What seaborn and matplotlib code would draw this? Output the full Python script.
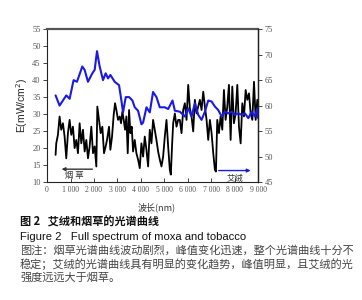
import matplotlib
matplotlib.use("Agg")
import matplotlib.pyplot as plt
import seaborn as sns
import numpy as np
import pandas as pd

# tobacco (black) spectrum, wavelength in nm, E in mW/cm2 (left axis)
tobacco_wl = [363, 392, 463, 534, 605, 677, 748, 819, 890, 962,
              1033, 1104, 1175, 1246, 1318, 1389, 1460, 1531, 1603, 1674,
              1745, 1816, 1887, 1959, 2030, 2101, 2144, 2215, 2286, 2358,
              2429, 2500, 2557, 2642, 2699, 2771, 2842, 2899, 2956, 3027,
              3098, 3155, 3212, 3269, 3326, 3383, 3440, 3497, 3554, 3611,
              3668, 3739, 3810, 3882, 3953, 4024, 4095, 4167, 4238, 4309,
              4380, 4451, 4522, 4594, 4665, 4736, 4808, 4879, 4950, 5021,
              5093, 5164, 5235, 5278, 5335, 5378, 5449, 5520, 5591,
              5662, 5734, 5805, 5876, 5947, 6019, 6090, 6161, 6232, 6303,
              6375, 6446, 6517, 6588, 6660, 6731, 6802, 6873, 6944, 7016,
              7087, 7158, 7201, 7258, 7329, 7400, 7472, 7543, 7614, 7685,
              7756, 7828, 7899, 7970, 8041, 8113, 8184, 8255, 8326, 8397,
              8469, 8540, 8611, 8682, 8754, 8825, 8896, 8967, 9000]
tobacco_e = [18, 21.4, 23.9, 29.3, 25.4, 27.3, 23.4, 17, 24.4, 28.3,
             23.9, 26.3, 20, 22.4, 18.5, 27.3, 21.4, 25.4, 19, 22.4,
             17, 20.5, 26.3, 18.5, 20.5, 14.6, 32.2, 28.3, 24.4, 26.3,
             18.5, 20.5, 22.4, 26.3, 19.5, 23.4, 29.8, 33.2, 31.2, 28.3,
             29.3, 27.3, 30.7, 28.3, 25.4, 29.3, 18.5, 31.2, 24.4, 26.3,
             19, 22.4, 18.5, 16.6, 14.1, 21.4, 17.5, 23.4, 19.5, 14.6,
             25.4, 21.4, 28.3, 25.4, 22.4, 19, 16.6, 14.6, 17.5, 23.4,
             28.3, 20.5, 13.6, 12.2, 21.4, 27.3, 30.2, 26.3, 28.3,
             28.3, 24.4, 31.2, 33.2, 28.3, 38.6, 31.7, 29.3, 24.9, 34.2,
             30.2, 32.2, 34.2, 31.2, 36.6, 32.2, 28.3, 22.4, 28.3, 24.4,
             18.5, 13.6, 13.1, 28.3, 24.4, 29.3, 25.4, 37.1, 28.3, 32.2,
             38.6, 22.4, 38.1, 27.3, 30.2, 38.6, 26.3, 21.4, 33.2, 29.3,
             37.1, 34.2, 36.1, 30.2, 28.3, 39.5, 28.3, 34.2, 30.2]

# moxa (blue) spectrum
moxa_wl = [363, 534, 819, 962, 1132, 1275, 1503, 1603, 1745, 1930,
           2030, 2130, 2244, 2386, 2500, 2600, 2700, 2885, 3070, 3170,
           3240, 3355, 3500, 3640, 3740, 3880, 4025, 4095, 4240, 4380,
           4520, 4665, 4808, 5020, 5165, 5350, 5450,
           5662, 5876, 6020, 6160, 6303, 6446, 6588, 6731, 6873, 7016,
           7160, 7300, 7443, 7585, 7728, 7870, 8013, 8155, 8300, 8440,
           8583, 8725, 8867, 8967, 9000]
moxa_e = [35.5, 32.5, 35.5, 34.5, 40, 39.5, 44, 43, 39.5, 42,
          43, 48.5, 44, 40, 42, 40.5, 41.5, 39.5, 38.5, 34,
          30.5, 35, 35, 34, 32, 31, 27, 27.5, 32, 30.5,
          36.5, 35, 32, 32, 31.5, 34, 31,
          30.7, 29.3, 31.7, 29.3, 33.2, 29.8, 28.3, 30.7, 34.0, 33.7,
          32.2, 31.2, 29.3, 30.7, 30.2, 30.7, 29.8, 30.2, 29.8, 30.2,
          28.8, 30.7, 29.3, 31.7, 28.8]

x_ticks = [0, 1000, 2000, 3000, 4000, 5000, 6000, 7000, 8000, 9000]
left_ticks = [10, 15, 20, 25, 30, 35, 40, 45, 50, 55]
right_ticks = [45, 50, 55, 60, 65, 70, 75]

caption_lines = ["图注：烟草光谱曲线波动剧烈，峰值变化迅速，整个光谱曲线十分不",
                 "稳定；艾绒的光谱曲线具有明显的变化趋势，峰值明显，且艾绒的光",
                 "强度远远大于烟草。"]

sns.set_style("ticks")
plt.rcParams['font.family'] = ['Noto Sans CJK SC', 'DejaVu Sans']

tob = pd.DataFrame({'wl': tobacco_wl, 'E': tobacco_e})
mox = pd.DataFrame({'wl': moxa_wl, 'E': moxa_e})

fig = plt.figure(figsize=(3.62, 3.0), dpi=100)
ax = fig.add_axes([0.130, 0.393, 0.583, 0.510])

sns.lineplot(data=tob, x='wl', y='E', ax=ax, color='black', lw=1.3, sort=False)
sns.lineplot(data=mox, x='wl', y='E', ax=ax, color='#1a1ae6', lw=1.5, sort=False)

ax.set_xlim(0, 9000)
ax.set_ylim(10, 55)
ax.set_xticks(x_ticks)
ax.set_xticklabels([f"{v:,}".replace(",", " ") for v in x_ticks],
                   family='Liberation Serif', fontsize=5.5, color='#555555')
ax.set_yticks(left_ticks)
ax.set_yticklabels([str(v) for v in left_ticks], family='Liberation Serif',
                   fontsize=6, color='#555555')
ax.tick_params(axis='x', direction='in', length=3, width=0.6, pad=3)
ax.tick_params(axis='y', direction='out', length=3, width=0.6, pad=1.5)
ax.set_xlabel('')
ax.set_ylabel('E(mW/cm$^2$)', family='Liberation Sans', fontsize=7.5, labelpad=2)
for s in ax.spines.values():
    s.set_linewidth(0.8)
    s.set_color('#222222')
ax.spines['top'].set_linewidth(1.6)
ax.spines['top'].set_color('#555555')

ax2 = ax.twinx()
ax2.set_ylim(45, 75)
ax2.set_yticks(right_ticks)
ax2.set_yticklabels([str(v) for v in right_ticks], family='Liberation Serif',
                    fontsize=6, color='#555555')
ax2.tick_params(axis='y', direction='out', length=3, width=0.6, pad=1.5)
for s in ax2.spines.values():
    s.set_visible(False)
ax2.spines['right'].set_visible(True)
ax2.spines['right'].set_linewidth(1.0)
ax2.spines['right'].set_color('#222222')

# arrows marking the two curves
ax.annotate('', xy=(500, 13.8), xytext=(2050, 13.8),
            arrowprops=dict(arrowstyle='-|>', color='#333333', lw=1.0, mutation_scale=5))
ax.text(1150, 11.9, '烟 草', fontsize=6, ha='center', va='center', color='#333333')
ax.annotate('', xy=(8800, 13.4), xytext=(7200, 13.4),
            arrowprops=dict(arrowstyle='-|>', color='#1a1ae6', lw=1.0, mutation_scale=5))
ax.text(8000, 11.2, '艾绒', fontsize=6, ha='center', va='center', color='#333333')

fig.text(157 / 362, 1 - 207 / 300, '波长(nm)', fontsize=6.5, ha='center', va='center',
         color='#333333')
fig.text(20 / 362, 1 - 222 / 300, '图 2   艾绒和烟草的光谱曲线', fontsize=8,
         ha='left', va='center', color='#111111', fontweight='bold')
fig.text(20 / 362, 1 - 237 / 300, 'Figure 2   Full spectrum of moxa and tobacco',
         fontsize=8.1, ha='left', va='center', color='#111111', family='Liberation Sans')
for i, line in enumerate(caption_lines):
    fig.text(20 / 362, 1 - (250 + 14 * i) / 300, line, fontsize=8.05, ha='left',
             va='center', color='#444444')

fig.savefig('out.png', dpi=100)
